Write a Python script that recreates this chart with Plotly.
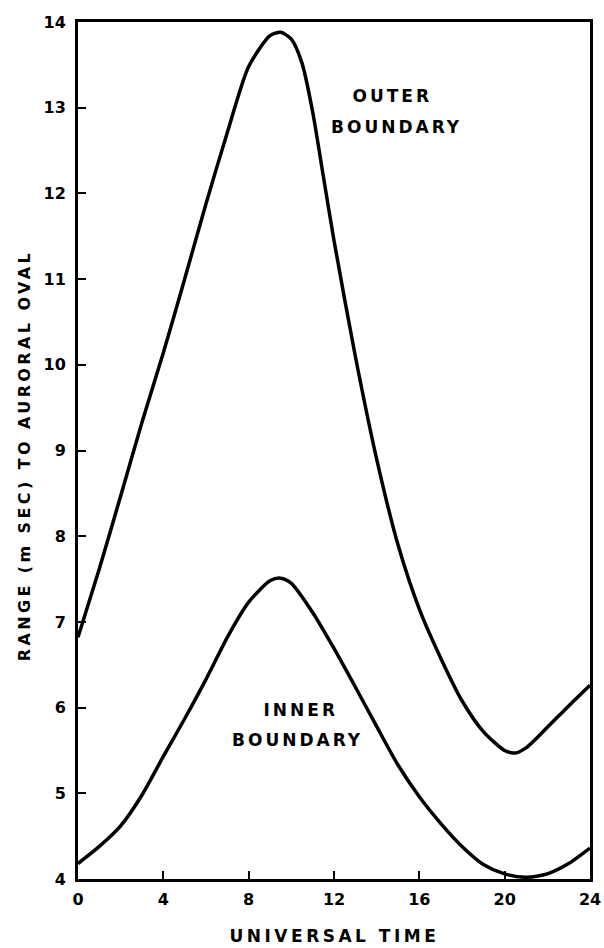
import plotly.graph_objects as go

hours_outer = [0, 1, 2, 3, 4, 5, 6, 7, 8, 9, 9.5, 10, 10.5, 11, 11.5, 12, 13, 14, 15, 16, 17, 18, 19, 20, 20.5, 21, 22, 23, 24]
outer_boundary = [6.82, 7.62, 8.47, 9.33, 10.14, 11.0, 11.88, 12.71, 13.48, 13.84, 13.88, 13.8, 13.52, 12.95,
                  12.2, 11.45, 10.1, 8.9, 7.9, 7.15, 6.58, 6.08, 5.72, 5.5, 5.47, 5.53, 5.77, 6.02, 6.26]

hours_inner = [0, 1, 2, 3, 4, 5, 6, 7, 8, 9, 9.5, 10, 11, 12, 13, 14, 15, 16, 17, 18, 19, 20, 21, 22, 23, 24]
inner_boundary = [4.18, 4.38, 4.62, 4.98, 5.43, 5.87, 6.33, 6.82, 7.23, 7.48, 7.51, 7.45, 7.11,
                  6.69, 6.24, 5.78, 5.33, 4.96, 4.65, 4.38, 4.17, 4.06, 4.02, 4.06, 4.18, 4.36]

x_ticks = [0, 4, 8, 12, 16, 20, 24]
y_ticks = [4, 5, 6, 7, 8, 9, 10, 11, 12, 13, 14]

FONT = "DejaVu Sans"

fig = go.Figure()
fig.add_trace(go.Scatter(x=hours_outer, y=outer_boundary, mode="lines",
                         line=dict(color="black", width=3.5, shape="spline", smoothing=0.7),
                         name="OUTER BOUNDARY", showlegend=False))
fig.add_trace(go.Scatter(x=hours_inner, y=inner_boundary, mode="lines",
                         line=dict(color="black", width=3.5, shape="spline", smoothing=0.7),
                         name="INNER BOUNDARY", showlegend=False))

ann_font = dict(family=FONT, size=17, color="black", weight="bold")
fig.add_annotation(x=14.72, y=13.14, text="OUTER", showarrow=False, font=ann_font)
fig.add_annotation(x=14.96, y=12.77, text="BOUNDARY", showarrow=False, font=ann_font)
fig.add_annotation(x=10.41, y=5.97, text="INNER", showarrow=False, font=ann_font)
fig.add_annotation(x=10.31, y=5.62, text="BOUNDARY", showarrow=False, font=ann_font)

fig.add_annotation(xref="paper", yref="paper", x=0.5, y=-0.0665, xanchor="center", yanchor="middle",
                   text="UNIVERSAL TIME", showarrow=False,
                   font=dict(family=FONT, size=17, color="black", weight="bold"))
fig.add_annotation(xref="paper", yref="paper", x=-0.1035, y=0.4936, xanchor="center", yanchor="middle",
                   text="RANGE (m SEC) TO AURORAL OVAL", showarrow=False, textangle=-90,
                   font=dict(family=FONT, size=16, color="black", weight="bold"))

fig.update_xaxes(range=[0, 24], tickvals=x_ticks, ticktext=[str(v) for v in x_ticks],
                 showline=True, linecolor="black", linewidth=3, mirror=True,
                 ticks="inside", ticklen=8, tickwidth=2, tickcolor="black",
                 showgrid=False, zeroline=False, ticklabelstandoff=4, automargin=False,
                 tickfont=dict(family=FONT, size=16, color="black", weight="bold"))
fig.update_yaxes(range=[4, 14], tickvals=y_ticks, ticktext=[str(v) for v in y_ticks],
                 showline=True, linecolor="black", linewidth=3, mirror=True,
                 ticks="inside", ticklen=8, tickwidth=2, tickcolor="black",
                 showgrid=False, zeroline=False, ticklabelstandoff=6, automargin=False,
                 tickfont=dict(family=FONT, size=16, color="black", weight="bold"))

fig.update_layout(width=604, height=948, autosize=False, margin=dict(l=78, r=14, t=22, b=69),
                  paper_bgcolor="white", plot_bgcolor="white")

post = """
document.body.style.margin = '0';
document.body.style.padding = '0';
document.body.style.overflow = 'hidden';
var anns = document.querySelectorAll('text.annotation-text');
anns.forEach(function(t) {
  var s = t.textContent;
  if (s === 'UNIVERSAL TIME') { t.style.letterSpacing = '3.5px'; }
  else if (s.indexOf('RANGE') === 0) { t.style.letterSpacing = '3.4px'; }
  else { t.style.letterSpacing = '3px'; }
});
"""

fig.write_html("out.html", post_script=post,
               config={"responsive": False, "displayModeBar": False})
